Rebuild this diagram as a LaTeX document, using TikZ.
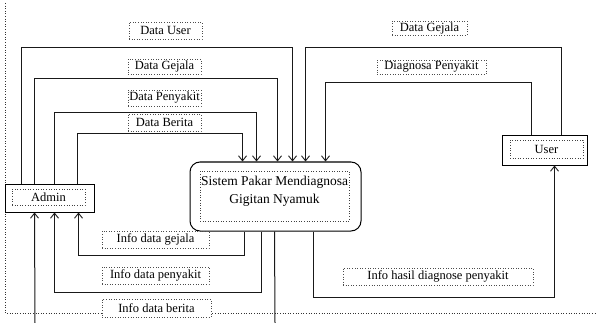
\documentclass[tikz,border=0pt]{standalone}
\usepackage{fontspec}
\setmainfont{Liberation Serif}
\usetikzlibrary{arrows.meta}
\begin{document}
\begin{tikzpicture}[x=1pt,y=-1pt,
  entity/.style={draw=black,line width=1pt,inner sep=0pt},
  process/.style={draw=black,line width=1pt,rounded corners=10pt,inner sep=0pt},
  txtbox/.style={draw=black!75,dotted,line width=0.6pt,inner sep=0pt,
    font=\fontsize{12.5}{13}\selectfont,align=center},
  lbl/.style={draw=black!70,dotted,line width=0.6pt,inner sep=0pt,
    minimum height=16pt,font=\fontsize{12.5}{13}\selectfont},
  flow/.style={draw=black!90,line width=1pt,-{Straight Barb[length=5pt,width=8pt,line width=0.9pt]}},
  plain/.style={draw=black!90,line width=1pt},
  frame/.style={draw=black!80,dotted,line width=0.6pt}]
\useasboundingbox (0,0) rectangle (596,323);

% dotted frame
\draw[frame] (5,3) -- (5,313) -- (596,313);

% entities and process
\node[entity,minimum width=89pt,minimum height=28pt] (admin) at (49.5,198) {};
\node[txtbox,minimum width=73pt,minimum height=16pt] (admint) at (48.5,197) {Admin};
\node[process,minimum width=171pt,minimum height=69pt] (sys) at (275.5,196.5) {};
\node[txtbox,minimum width=149pt,minimum height=50pt] (syst) at (274.5,196) {};
\node[align=center,inner sep=0pt,font=\fontsize{13.5}{18}\selectfont] (systext) at (274.5,191)
  {Sistem Pakar Mendiagnosa\\Gigitan Nyamuk};
\node[entity,minimum width=85pt,minimum height=29pt] (user) at (544.5,150.5) {};
\node[txtbox,minimum width=73pt,minimum height=18pt] (usert) at (546.5,149) {User};

% flows from Admin to the system
\draw[flow] ([xshift=17]admin.north west) -- ++(0,-136) -| ([xshift=103]sys.north west);
\draw[flow] ([xshift=30]admin.north west) -- ++(0,-105) -| ([xshift=88]sys.north west);
\draw[flow] ([xshift=50]admin.north west) -- ++(0,-71) -| ([xshift=67]sys.north west);
\draw[flow] ([xshift=73]admin.north west) -- ++(0,-50) -| ([xshift=53]sys.north west);

% flows from User to the system
\draw[flow] ([xshift=60]user.north west) -- ++(0,-88) -| ([xshift=116]sys.north west);
\draw[flow] ([xshift=30]user.north west) -- ++(0,-53) -| ([xshift=136]sys.north west);

% flows from the system back
\draw[flow] ([xshift=55]sys.south west) -- ++(0,24) -| ([xshift=74]admin.south west);
\draw[flow] ([xshift=72]sys.south west) -- ++(0,61) -| ([xshift=50]admin.south west);
\draw[flow] ([xshift=124]sys.south west) -- ++(0,66) -| ([xshift=53]user.south west);

% flows running past the lower edge
\coordinate (outA) at (35,323);
\coordinate (outB) at (275,323);
\draw[flow] (outA) -- ([xshift=30]admin.south west);
\draw[plain] ([xshift=85]sys.south west) -- (outB);

% flow labels
\node[lbl,minimum width=73pt,minimum height=17pt] (lu) at (165.5,30.5) {Data User};
\node[lbl,minimum width=73pt,minimum height=15pt] (lg) at (164.5,66.5) {Data Gejala};
\node[lbl,minimum width=73pt] (lp) at (164.5,98) {Data Penyakit};
\node[lbl,minimum width=73pt,minimum height=17pt] (lb) at (164.5,122.5) {Data Berita};
\node[lbl,minimum width=75pt,minimum height=14pt] (rg) at (429.5,28) {Data Gejala};
\node[lbl,minimum width=109pt,minimum height=14pt] (rd) at (431.5,67) {Diagnosa Penyakit};
\node[lbl,minimum width=107pt,minimum height=17pt] (ig) at (155.5,239.5) {Info data gejala};
\node[lbl,minimum width=107pt,minimum height=17pt] (ip) at (155.5,275.5) {Info data penyakit};
\node[lbl,minimum width=109pt,minimum height=18pt,fill=white] (ib) at (156.5,308) {Info data berita};
\node[lbl,minimum width=190pt,minimum height=17pt] (ih) at (438,276.5) {Info hasil diagnose penyakit};
\end{tikzpicture}
\end{document}
